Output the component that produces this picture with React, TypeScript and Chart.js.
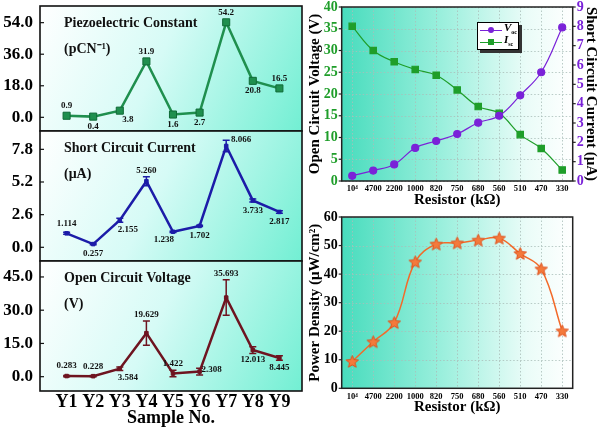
import React, { useEffect, useRef } from "react";
import { Chart, registerables } from "chart.js";
Chart.register(...registerables);

const FONT = "'Liberation Serif', 'Times New Roman', serif";
const W = 600;
const H = 431;

// ---------- Data: left panels ----------
const SAMPLES = ["Y1", "Y2", "Y3", "Y4", "Y5", "Y6", "Y7", "Y8", "Y9"];
const PIEZO = [0.9, 0.4, 3.8, 31.9, 1.6, 2.7, 54.2, 20.8, 16.5];
const PIEZO_ANCHOR = ["n", "s", "se", "n", "s", "s", "n", "s", "n"];
const PIEZO_TICKS = [0, 18, 36, 54];

const ISC = [1.114, 0.257, 2.155, 5.26, 1.238, 1.702, 8.066, 3.733, 2.817];
const ISC_ERR = [0.08, 0.05, 0.15, 0.35, 0.05, 0.05, 0.45, 0.12, 0.1];
const ISC_ANCHOR = ["n", "s", "se", "n", "sw", "s", "ne", "s", "s"];
const ISC_TICKS = [0, 2.6, 5.2, 7.8];

const VOC = [0.283, 0.228, 3.584, 19.629, 1.422, 2.308, 35.693, 12.013, 8.445];
const VOC_ERR = [0.3, 0.3, 0.8, 5.5, 1.5, 1.5, 8.0, 1.5, 1.0];
const VOC_ANCHOR = ["n", "n", "se", "n", "n", "e", "n", "s", "s"];
const VOC_TICKS = [0, 15, 30, 45];

// ---------- Data: right panels ----------
const RESISTORS = ["10\u2074", "4700", "2200", "1000", "820", "750", "680", "560", "510", "470", "330"];
const VOC_R = [1.2, 2.4, 3.8, 7.6, 9.2, 10.8, 13.4, 15.0, 19.7, 25.0, 35.3];
const ISC_R = [8.0, 6.75, 6.17, 5.77, 5.47, 4.71, 3.85, 3.5, 2.4, 1.68, 0.57];
const POWER = [9.4, 16.3, 23.0, 44.3, 50.5, 50.9, 51.9, 52.6, 47.2, 41.8, 20.1];

const C_PIEZO = "#1f8f4e";
const C_ISC = "#1c1ca8";
const C_VOC = "#6e1420";
const C_PURPLE = "#7a22d8";
const C_GREEN = "#1f9e2a";
const C_ORANGE = "#f26a2a";

function fitScale(w?: number, h?: number) {
  return (s: any) => {
    if (w !== undefined) s.width = w;
    if (h !== undefined) s.height = h;
    s.paddingTop = 0;
    s.paddingBottom = 0;
    s.paddingLeft = 0;
    s.paddingRight = 0;
  };
}

const NOGRID = { display: false, drawTicks: false, tickLength: 0 };

const leftDecor = {
  id: "leftDecor",
  beforeDraw(chart: any) {
    const { ctx, chartArea: a } = chart;
    ctx.save();
    const g = ctx.createLinearGradient(a.left, a.top, a.right, a.bottom);
    g.addColorStop(0, "#ffffff");
    g.addColorStop(0.45, "#d6fbf6");
    g.addColorStop(1, "#72efd3");
    ctx.fillStyle = g;
    ctx.fillRect(a.left, a.top, a.right - a.left, a.bottom - a.top);
    ctx.restore();
  },
  afterDatasetsDraw(chart: any, _a: any, o: any) {
    const { ctx, chartArea: a } = chart;
    const xs = chart.scales.x;
    const ys = chart.scales.y;
    ctx.save();
    if (o.errors) {
      ctx.strokeStyle = o.color;
      ctx.lineWidth = 1.5;
      o.values.forEach((v: number, i: number) => {
        const e = o.errors[i];
        const x = xs.getPixelForValue(i + 1);
        const y1 = ys.getPixelForValue(v + e);
        const y2 = ys.getPixelForValue(v - e);
        ctx.beginPath();
        ctx.moveTo(x, y1);
        ctx.lineTo(x, y2);
        ctx.moveTo(x - 3.5, y1);
        ctx.lineTo(x + 3.5, y1);
        ctx.moveTo(x - 3.5, y2);
        ctx.lineTo(x + 3.5, y2);
        ctx.stroke();
      });
    }
    ctx.fillStyle = "#111";
    ctx.font = `bold 9px ${FONT}`;
    ctx.textAlign = "center";
    ctx.textBaseline = "middle";
    o.values.forEach((v: number, i: number) => {
      const e = o.errors ? o.errors[i] : 0;
      const x = xs.getPixelForValue(i + 1);
      const y = ys.getPixelForValue(v);
      const top = Math.min(y - 4, ys.getPixelForValue(v + e));
      const bot = Math.max(y + 4, ys.getPixelForValue(v - e));
      const an = o.anchors[i];
      let lx = x, ly = y;
      if (an === "n") { ly = top - 6; }
      else if (an === "s") { ly = bot + 6; }
      else if (an === "se") { lx = x + 8; ly = bot + 5; }
      else if (an === "sw") { lx = x - 9; ly = bot + 4; }
      else if (an === "e") { lx = x + 12; ly = y - 2; }
      else if (an === "ne") { lx = x + 15; ly = y - 6; }
      ctx.fillText(v.toFixed(o.decimals), lx, ly);
    });
    ctx.textAlign = "left";
    ctx.font = `bold 14px ${FONT}`;
    ctx.fillText(o.title, a.left + 24, a.top + 17);
    ctx.fillText(o.unit, a.left + 24, a.top + 43);
    ctx.strokeStyle = "#111";
    ctx.lineWidth = 1.6;
    ctx.strokeRect(a.left, a.top, a.right - a.left, a.bottom - a.top);
    ctx.lineWidth = 1.2;
    o.ticks.forEach((t: number) => {
      const y = ys.getPixelForValue(t);
      ctx.beginPath();
      ctx.moveTo(a.left, y);
      ctx.lineTo(a.left + 4, y);
      ctx.stroke();
    });
    ctx.restore();
  },
};

const rightDecor = {
  id: "rightDecor",
  beforeDraw(chart: any) {
    const { ctx, chartArea: a } = chart;
    const xs = chart.scales.x;
    const ys = chart.scales.y;
    ctx.save();
    const g = ctx.createLinearGradient(a.left, a.top, a.right, a.top);
    g.addColorStop(0, "#48dcbd");
    g.addColorStop(0.45, "#9ef0de");
    g.addColorStop(0.8, "#eafcf8");
    g.addColorStop(1, "#ffffff");
    ctx.fillStyle = g;
    ctx.fillRect(a.left, a.top, a.right - a.left, a.bottom - a.top);
    ctx.strokeStyle = "rgba(170,190,185,0.8)";
    ctx.lineWidth = 1;
    ctx.setLineDash([1.5, 2]);
    xs.ticks.forEach((_t: any, i: number) => {
      const x = Math.round(xs.getPixelForTick(i)) + 0.5;
      ctx.beginPath();
      ctx.moveTo(x, a.top);
      ctx.lineTo(x, a.bottom);
      ctx.stroke();
    });
    ys.ticks.forEach((t: any) => {
      const y = Math.round(ys.getPixelForValue(t.value)) + 0.5;
      ctx.beginPath();
      ctx.moveTo(a.left, y);
      ctx.lineTo(a.right, y);
      ctx.stroke();
    });
    ctx.restore();
  },
  afterDraw(chart: any) {
    const { ctx, chartArea: a } = chart;
    ctx.save();
    ctx.strokeStyle = "#222";
    ctx.lineWidth = 1.5;
    ctx.strokeRect(a.left, a.top, a.right - a.left, a.bottom - a.top);
    ctx.lineWidth = 1.2;
    const ys = chart.scales.y;
    ys.ticks.forEach((t: any) => {
      const y = ys.getPixelForValue(t.value);
      ctx.beginPath();
      ctx.moveTo(a.left - 3, y);
      ctx.lineTo(a.left, y);
      ctx.stroke();
    });
    const y1 = chart.scales.y1;
    if (y1) {
      y1.ticks.forEach((t: any) => {
        const y = y1.getPixelForValue(t.value);
        ctx.beginPath();
        ctx.moveTo(a.right, y);
        ctx.lineTo(a.right + 3, y);
        ctx.stroke();
      });
    }
    ctx.restore();
  },
};

function leftConfig(p: any) {
  const bold = (size: number) => ({ family: FONT, size, weight: "bold" as const });
  return {
    type: "line" as const,
    data: {
      datasets: [
        {
          data: p.values.map((v: number, i: number) => ({ x: i + 1, y: v })),
          borderColor: p.color,
          backgroundColor: p.color,
          pointBorderColor: p.pointBorder || p.color,
          borderWidth: 2.5,
          pointStyle: p.pointStyle,
          pointRadius: p.radius,
          pointBorderWidth: 1,
          tension: 0,
        },
      ],
    },
    options: {
      responsive: false,
      animation: false as const,
      events: [],
      layout: { padding: { left: 0, right: W - 302, top: p.top, bottom: p.showX ? 0 : H - p.bottom } },
      plugins: {
        legend: { display: false },
        tooltip: { enabled: false },
        leftDecor: {
          values: p.values,
          errors: p.errors,
          anchors: p.anchors,
          decimals: p.decimals,
          color: p.color,
          title: p.title,
          unit: p.unit,
          ticks: p.ticks,
        },
      },
      scales: {
        x: {
          type: "linear" as const,
          min: 0,
          max: 9.85,
          display: p.showX,
          grid: NOGRID,
          border: { display: false },
          afterBuildTicks: (s: any) => {
            s.ticks = SAMPLES.map((_l, i) => ({ value: i + 1 }));
          },
          ticks: {
            callback: (v: any) => SAMPLES[Math.round(v) - 1],
            font: bold(18),
            color: "#000",
            padding: 1,
            maxRotation: 0,
            autoSkip: false,
          },
          title: { display: true, text: "Sample No.", font: bold(18), color: "#000", padding: { top: 0, bottom: 2 } },
          afterFit: p.showX ? fitScale(undefined, 40) : fitScale(),
        },
        y: {
          type: "linear" as const,
          min: p.min,
          max: p.max,
          afterBuildTicks: (s: any) => {
            s.ticks = p.ticks.map((v: number) => ({ value: v }));
          },
          ticks: { callback: (v: any) => Number(v).toFixed(1), font: bold(17), color: "#000", padding: 7 },
          grid: NOGRID,
          border: { display: false },
          afterFit: fitScale(40),
        },
      },
    },
    plugins: [leftDecor],
  };
}

function makeStar(size: number, fill: string, stroke: string) {
  const c = document.createElement("canvas");
  c.width = size;
  c.height = size;
  const ctx = c.getContext("2d")!;
  const cx = size / 2, cy = size / 2 + 0.5, R = size / 2 - 1, r = R * 0.45;
  ctx.beginPath();
  for (let i = 0; i < 10; i++) {
    const ang = -Math.PI / 2 + (i * Math.PI) / 5;
    const rad = i % 2 === 0 ? R : r;
    ctx.lineTo(cx + rad * Math.cos(ang), cy + rad * Math.sin(ang));
  }
  ctx.closePath();
  ctx.fillStyle = fill;
  ctx.fill();
  ctx.strokeStyle = stroke;
  ctx.lineWidth = 1;
  ctx.stroke();
  return c;
}

function rightXScale() {
  return {
    type: "category" as const,
    offset: true,
    grid: NOGRID,
    border: { display: false },
    ticks: { font: { family: FONT, size: 8.5, weight: "bold" as const }, color: "#000", padding: 3, maxRotation: 0, autoSkip: false },
    title: { display: true, text: "Resistor (k\u03A9)", font: { family: FONT, size: 15, weight: "bold" as const }, color: "#000", padding: { top: 0, bottom: 2 } },
    afterFit: fitScale(undefined, 30),
  };
}

function rightTopConfig() {
  return {
    type: "line" as const,
    data: {
      labels: RESISTORS,
      datasets: [
        {
          label: "Voc",
          data: VOC_R,
          yAxisID: "y",
          borderColor: C_PURPLE,
          backgroundColor: C_PURPLE,
          borderWidth: 1.2,
          pointStyle: "circle" as const,
          pointRadius: 3.5,
          tension: 0.4,
        },
        {
          label: "Isc",
          data: ISC_R,
          yAxisID: "y1",
          borderColor: C_GREEN,
          backgroundColor: C_GREEN,
          borderWidth: 1.2,
          pointStyle: "rect" as const,
          pointRadius: 4.5,
          tension: 0.4,
        },
      ],
    },
    options: {
      responsive: false,
      animation: false as const,
      events: [],
      layout: { padding: { left: 300, right: 0, top: 7, bottom: 220 } },
      plugins: { legend: { display: false }, tooltip: { enabled: false } },
      scales: {
        x: rightXScale(),
        y: {
          position: "left" as const,
          min: 0,
          max: 40,
          ticks: { stepSize: 5, autoSkip: false, font: { family: FONT, size: 14, weight: "bold" as const }, color: C_GREEN, padding: 4 },
          grid: NOGRID,
          border: { display: false },
          title: { display: true, text: "Open Circuit Voltage (V)", font: { family: FONT, size: 15, weight: "bold" as const }, color: "#000", padding: { top: 6, bottom: 0 } },
          afterFit: fitScale(41.7),
        },
        y1: {
          position: "right" as const,
          min: 0,
          max: 9,
          ticks: { stepSize: 1, autoSkip: false, font: { family: FONT, size: 14, weight: "bold" as const }, color: C_PURPLE, padding: 4 },
          grid: NOGRID,
          border: { display: false },
          title: { display: true, text: "Short Circuit Current (\u03BCA)", font: { family: FONT, size: 15, weight: "bold" as const }, color: "#000", padding: { top: 0, bottom: 0 } },
          afterFit: fitScale(27.3),
        },
      },
    },
    plugins: [rightDecor],
  };
}

function rightBottomConfig(star: HTMLCanvasElement) {
  return {
    type: "line" as const,
    data: {
      labels: RESISTORS,
      datasets: [
        {
          label: "Power",
          data: POWER,
          borderColor: C_ORANGE,
          backgroundColor: C_ORANGE,
          borderWidth: 1.5,
          pointStyle: star,
          tension: 0.4,
        },
      ],
    },
    options: {
      responsive: false,
      animation: false as const,
      events: [],
      layout: { padding: { left: 300, right: 27.3, top: 217, bottom: 12.7 } },
      plugins: { legend: { display: false }, tooltip: { enabled: false } },
      scales: {
        x: rightXScale(),
        y: {
          position: "left" as const,
          min: 0,
          max: 60,
          ticks: { stepSize: 10, autoSkip: false, font: { family: FONT, size: 14, weight: "bold" as const }, color: "#000", padding: 4 },
          grid: NOGRID,
          border: { display: false },
          title: { display: true, text: "Power Density (\u03BCW/cm\u00B2)", font: { family: FONT, size: 15, weight: "bold" as const }, color: "#000", padding: { top: 6, bottom: 0 } },
          afterFit: fitScale(41.7),
        },
      },
    },
    plugins: [rightDecor],
  };
}

const LEGEND = [
  { main: "V", sub: "oc", color: C_PURPLE, shape: "circle" },
  { main: "I", sub: "sc", color: C_GREEN, shape: "square" },
];

export default function App() {
  const r1 = useRef<HTMLCanvasElement>(null);
  const r2 = useRef<HTMLCanvasElement>(null);
  const r3 = useRef<HTMLCanvasElement>(null);
  const r4 = useRef<HTMLCanvasElement>(null);
  const r5 = useRef<HTMLCanvasElement>(null);

  useEffect(() => {
    const star = makeStar(15, "#f47a3c", "#e0501a");
    const charts: Chart[] = [];
    charts.push(
      new Chart(r1.current!, leftConfig({
        values: PIEZO, anchors: PIEZO_ANCHOR, decimals: 1, color: C_PIEZO, pointStyle: "rect", radius: 5,
        pointBorder: "#0f6a36", min: -7.8, max: 63.5, ticks: PIEZO_TICKS, title: "Piezoelectric Constant",
        unit: "(pCN\u207B\u00B9)", top: 3, bottom: 131, showX: false,
      }) as any)
    );
    charts.push(
      new Chart(r2.current!, leftConfig({
        values: ISC, errors: ISC_ERR, anchors: ISC_ANCHOR, decimals: 3, color: C_ISC, pointStyle: "rect", radius: 2.5,
        min: -1.09, max: 9.26, ticks: ISC_TICKS, title: "Short Circuit Current",
        unit: "(\u03BCA)", top: 131, bottom: 261, showX: false,
      }) as any)
    );
    charts.push(
      new Chart(r3.current!, leftConfig({
        values: VOC, errors: VOC_ERR, anchors: VOC_ANCHOR, decimals: 3, color: C_VOC, pointStyle: "rect", radius: 2.5,
        min: -6.46, max: 52.2, ticks: VOC_TICKS, title: "Open Circuit Voltage",
        unit: "(V)", top: 261, bottom: 391, showX: true,
      }) as any)
    );
    charts.push(new Chart(r4.current!, rightTopConfig() as any));
    charts.push(new Chart(r5.current!, rightBottomConfig(star) as any));
    return () => charts.forEach((c) => c.destroy());
  }, []);

  const cv: React.CSSProperties = { position: "absolute", left: 0, top: 0, width: W, height: H };
  return (
    <div style={{ position: "fixed", left: 0, top: 0, width: W, height: H, background: "#fff", overflow: "hidden" }}>
      <canvas ref={r1} width={W} height={H} style={cv} />
      <canvas ref={r2} width={W} height={H} style={cv} />
      <canvas ref={r3} width={W} height={H} style={cv} />
      <canvas ref={r4} width={W} height={H} style={cv} />
      <canvas ref={r5} width={W} height={H} style={cv} />
      <div
        style={{
          position: "absolute", left: 477, top: 22, width: 40, height: 26, background: "#fff",
          border: "1px solid #000", boxShadow: "3px 3px 0 #333", fontFamily: FONT,
        }}
      >
        {LEGEND.map((e, i) => (
          <div key={i} style={{ position: "absolute", left: 2, top: 1 + i * 12, height: 12, width: 38, display: "flex", alignItems: "center" }}>
            <div style={{ position: "relative", width: 22, height: 12 }}>
              <div style={{ position: "absolute", left: 0, top: 5.5, width: 22, height: 1, background: e.color }} />
              <div
                style={{
                  position: "absolute", left: 8, top: 3, width: 6, height: 6, background: e.color,
                  borderRadius: e.shape === "circle" ? 3 : 0,
                }}
              />
            </div>
            <span style={{ fontStyle: "italic", fontWeight: "bold", fontSize: 11, marginLeft: 2, lineHeight: "12px" }}>
              {e.main}
              <sub style={{ fontSize: 6, fontStyle: "normal" }}>{e.sub}</sub>
            </span>
          </div>
        ))}
      </div>
    </div>
  );
}
